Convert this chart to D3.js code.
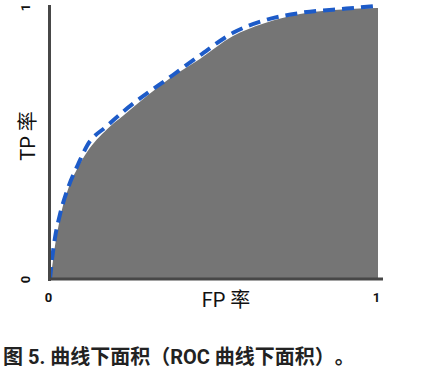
<!DOCTYPE html>
<html>
<head>
<meta charset="utf-8">
<script src="https://cdn.jsdelivr.net/npm/d3@7"></script>
<style>
  html, body { margin: 0; padding: 0; background: #fff; }
  svg { display: block; }
  text { text-spacing-trim: space-all; font-feature-settings: "halt" 0, "chws" 0; }
</style>
</head>
<body>
<svg id="chart" width="446" height="374"></svg>
<script>
// False-positive rate samples shared by both curves
const fpr = [0, 0.006, 0.015, 0.03, 0.055, 0.085, 0.113, 0.174, 0.223, 0.375, 0.457, 0.558, 0.649, 0.762, 0.915, 1.0];
// True-positive rate bounding the shaded area under the curve
const areaTpr = [0, 0.04, 0.12, 0.22, 0.33, 0.41, 0.467, 0.551, 0.60, 0.746, 0.809, 0.893, 0.938, 0.974, 0.993, 0.996];
// True-positive rate of the dashed ROC curve
const rocTpr = [0, 0.07, 0.15, 0.235, 0.335, 0.42, 0.49, 0.563, 0.615, 0.75, 0.822, 0.905, 0.949, 0.978, 0.995, 1.005];
const xTicks = [0, 1];
const yTicks = [0, 1];
const xTitle = "FP 率";
const yTitle = "TP 率";
const caption = "图 5. 曲线下面积（ROC 曲线下面积）。";

const svg = d3.select("#chart");
const x = d3.scaleLinear().domain([0, 1]).range([50, 378]);
const y = d3.scaleLinear().domain([0, 1]).range([279, 7]);

const areaPts = fpr.map((f, i) => [f, areaTpr[i]]);
const rocPts = fpr.map((f, i) => [f, rocTpr[i]]);

svg.append("path")
  .datum(areaPts)
  .attr("fill", "#757575")
  .attr("d", d3.area().x(d => x(d[0])).y0(y(0)).y1(d => y(d[1])).curve(d3.curveMonotoneX));

svg.append("path")
  .datum(rocPts)
  .attr("fill", "none")
  .attr("stroke", "#1d5bc8")
  .attr("stroke-width", 4)
  .attr("stroke-dasharray", "12,7")
  .attr("d", d3.line().x(d => x(d[0])).y(d => y(d[1])).curve(d3.curveMonotoneX));

// Axis lines
const xAxis = svg.append("g").attr("transform", `translate(0,${y(0)})`)
  .call(d3.axisBottom(x).tickValues(xTicks).tickSize(0).tickPadding(14).tickFormat(d3.format("d")));
xAxis.select(".domain").attr("stroke", "#474747").attr("stroke-width", 3).attr("d", `M48,0H383`);
xAxis.selectAll("text").attr("font-family", "Roboto, sans-serif").attr("font-weight", "bold")
  .attr("font-size", 13).attr("fill", "#111").attr("dx", -2);

const yAxis = svg.append("g").attr("transform", `translate(${x(0) - 0.5},0)`)
  .call(d3.axisLeft(y).tickValues(yTicks).tickSize(0).tickFormat(d3.format("d")));
yAxis.select(".domain").attr("stroke", "#474747").attr("stroke-width", 3).attr("d", `M0,5V281`);
yAxis.selectAll(".tick text")
  .attr("x", null).attr("dy", null)
  .attr("text-anchor", "middle")
  .attr("dominant-baseline", "central")
  .attr("transform", "translate(-24,0) rotate(-90)")
  .attr("font-family", "Roboto, sans-serif").attr("font-weight", "bold")
  .attr("font-size", 13).attr("fill", "#111");

svg.append("text")
  .attr("x", 226).attr("y", 300)
  .attr("text-anchor", "middle").attr("dominant-baseline", "central")
  .attr("font-family", "Roboto, 'Noto Sans CJK SC', sans-serif")
  .attr("font-size", 20).attr("fill", "#111")
  .text(xTitle);

svg.append("text")
  .attr("transform", "translate(28,136) rotate(-90)")
  .attr("text-anchor", "middle").attr("dominant-baseline", "central")
  .attr("font-family", "Roboto, 'Noto Sans CJK SC', sans-serif")
  .attr("font-size", 20).attr("fill", "#111")
  .text(yTitle);

svg.append("text")
  .attr("x", 3).attr("y", 357)
  .attr("dominant-baseline", "central")
  .attr("font-family", "Roboto, 'Noto Sans CJK SC', sans-serif")
  .attr("font-weight", "bold")
  .attr("font-size", 20).attr("fill", "#222")
  .text(caption);
</script>
</body>
</html>
